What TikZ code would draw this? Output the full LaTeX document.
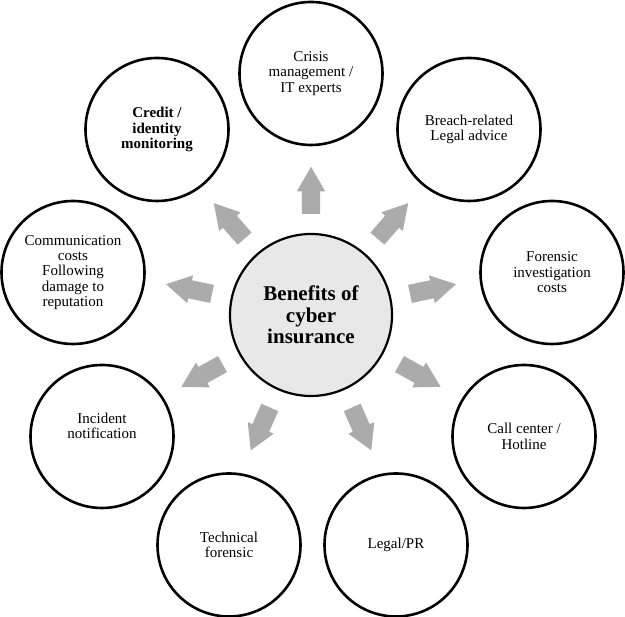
\documentclass[tikz,border=0pt]{standalone}
\usepackage{fontspec}
\setmainfont{Liberation Serif}
\usetikzlibrary{calc,shapes.arrows}

\begin{document}
\begin{tikzpicture}[
  x=1pt, y=1pt,
  font=\fontsize{15}{15.4}\selectfont,
  benefit/.style={circle, draw=black, line width=2.6pt, minimum size=143pt,
                  inner sep=0pt, align=center, fill=white},
  hubnode/.style={circle, draw=black, line width=2.2pt, minimum size=162pt,
                  inner sep=0pt, align=center, fill=black!9,
                  font=\fontsize{21}{21.7}\selectfont\bfseries},
  blockarrow/.style={single arrow, fill=black!33, draw=none, inner xsep=0pt,
                     inner ysep=9pt, minimum height=47pt, single arrow head extend=5pt,
                     single arrow tip angle=60, anchor=tail}
]
\useasboundingbox (0,0) rectangle (625,617);

\node[hubnode] (hub) at (311, 302) {Benefits of\\cyber\\insurance};

\node[benefit] (crisis)    at (311, 543.5) {Crisis\\management /\\IT experts};
\node[benefit] (breach)    at (469, 487.5) {Breach-related\\Legal advice};
\node[benefit] (credit)    at (157, 487.5) {\bfseries Credit /\\\bfseries identity\\\bfseries monitoring};
\node[benefit] (forensic)  at (552, 344.5) {Forensic\\investigation\\costs};
\node[benefit] (comm)      at (73, 344.5)  {Communication\\costs\\Following\\damage to\\reputation};
\node[benefit] (call)      at (524, 180.5) {Call center /\\Hotline};
\node[benefit] (incident)  at (102, 180.5) {Incident\\notification\\[6pt]};
\node[benefit] (legalpr)   at (396, 72)    {Legal/PR};
\node[benefit] (technical) at (229, 72)    {Technical\\forensic};

% block arrows out of the hub
\foreach \a/\n in {90/crisis, 49/breach, 131/credit, 12/forensic, 168/comm,
                   331/call, 209/incident, 294/legalpr, 246/technical}
  \node[blockarrow, rotate=\a] (to-\n) at ($(hub.center)+(\a:101)$) {};
\end{tikzpicture}
\end{document}
